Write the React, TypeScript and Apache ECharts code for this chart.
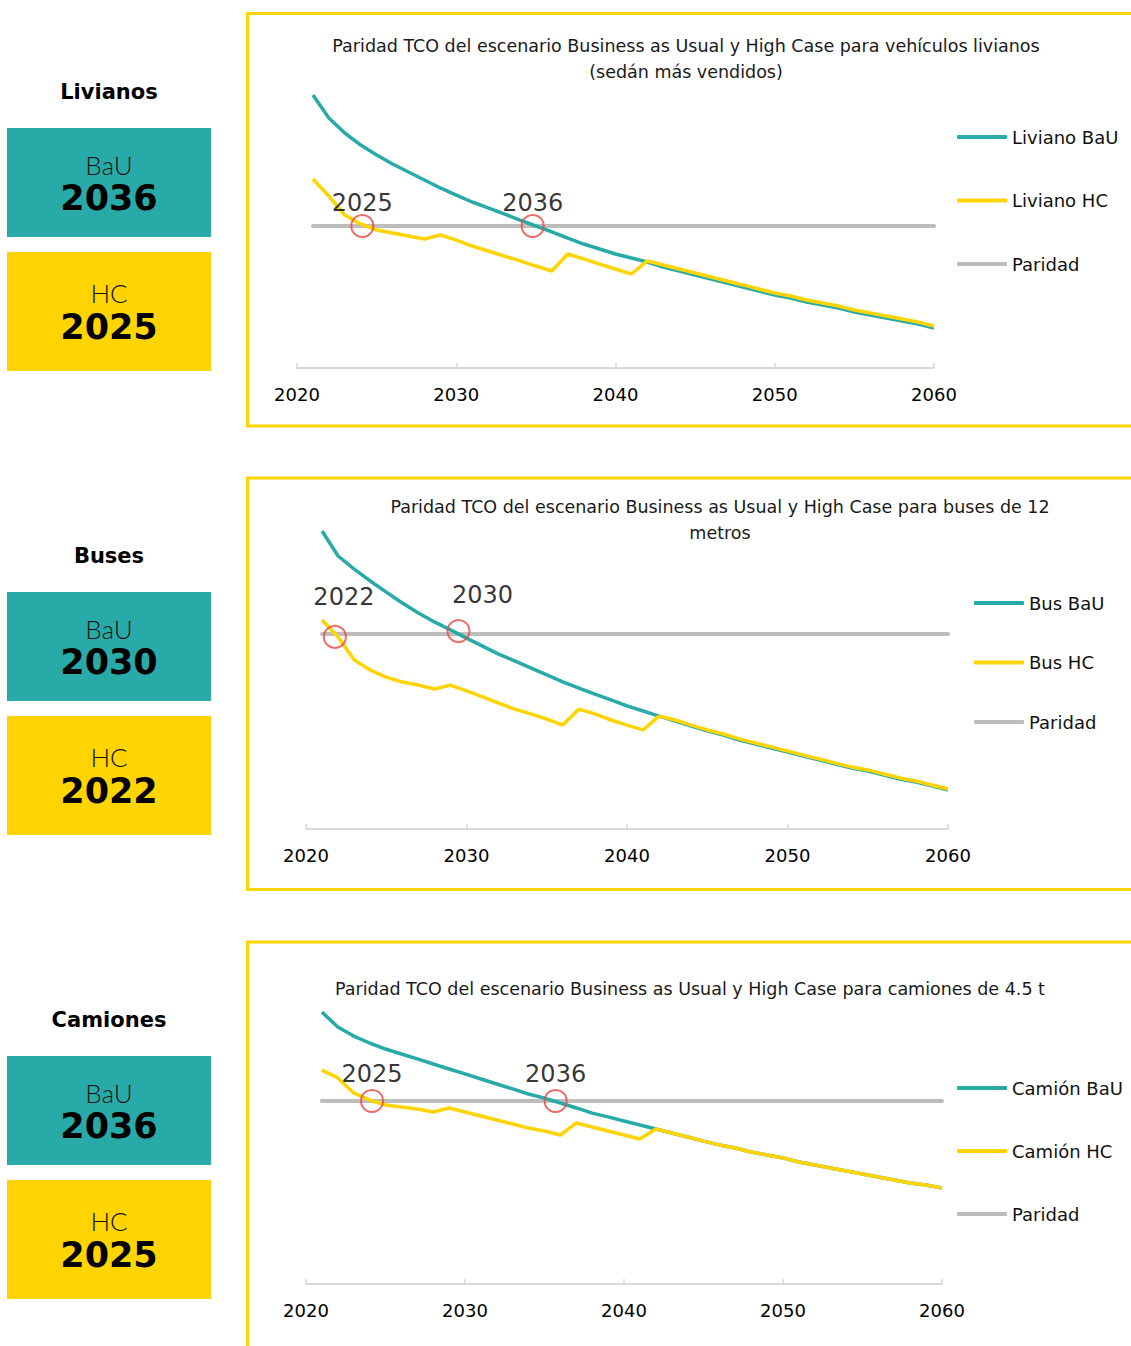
import React, { useEffect, useRef } from "react";
import * as echarts from "echarts";

// ---------- DATA ----------
const firstYear = 2021;
const parityLevel = 100;

const livianosBaU = [192.3, 176.1, 165.5, 157.0, 150.0, 143.7, 138.0, 132.4, 126.8, 121.8, 116.9, 112.7, 108.5, 104.2, 100.0, 95.8, 91.5, 87.3, 83.8, 80.3, 77.5, 74.6, 71.1, 68.3, 65.5, 62.7, 59.9, 57.0, 54.2, 51.4, 49.3, 46.5, 44.4, 42.3, 39.4, 37.3, 35.2, 33.1, 31.0, 28.2];
const livianosHC = [133.1, 121.1, 107.7, 101.4, 97.2, 95.1, 93.0, 90.8, 93.7, 90.1, 85.9, 82.4, 78.9, 75.4, 71.8, 68.3, 80.3, 76.8, 73.2, 69.7, 66.2, 75.4, 72.5, 69.7, 66.9, 64.1, 61.3, 58.5, 55.6, 52.8, 50.7, 47.9, 45.8, 43.7, 40.8, 38.7, 36.6, 34.5, 32.4, 29.6];

const busesBaU = [152.8, 140.0, 133.3, 127.2, 121.5, 115.9, 110.8, 106.2, 102.1, 97.9, 93.8, 89.7, 86.2, 82.6, 79.0, 75.4, 72.3, 69.2, 66.2, 63.1, 60.5, 57.9, 55.4, 52.8, 50.3, 48.2, 45.6, 43.6, 41.5, 39.5, 37.4, 35.4, 33.3, 31.3, 29.7, 27.7, 25.6, 24.1, 22.1, 20.0];
const busesHC = [107.2, 98.5, 86.7, 81.5, 77.9, 75.4, 73.8, 71.8, 73.8, 70.8, 67.7, 64.6, 61.5, 59.0, 56.4, 53.3, 61.5, 59.0, 55.9, 53.3, 50.8, 57.9, 55.9, 53.3, 50.8, 48.7, 46.2, 44.1, 42.1, 40.0, 37.9, 35.9, 33.8, 31.8, 30.3, 28.2, 26.2, 24.6, 22.6, 20.5];

const camionesBaU = [148.6, 140.4, 135.5, 131.7, 128.4, 125.7, 123.0, 120.2, 117.5, 114.8, 112.0, 109.3, 106.6, 103.8, 101.6, 98.9, 96.2, 93.4, 91.3, 89.1, 86.9, 84.7, 82.5, 80.3, 78.1, 76.0, 74.3, 72.1, 70.5, 68.9, 66.7, 65.0, 63.4, 61.7, 60.1, 58.5, 56.8, 55.2, 54.1, 52.5];
const camionesHC = [116.9, 112.6, 104.4, 100.5, 97.8, 96.7, 95.6, 94.0, 96.2, 94.0, 91.8, 89.6, 87.4, 85.2, 83.6, 81.4, 88.0, 85.8, 83.6, 81.4, 79.2, 84.7, 82.5, 80.3, 78.1, 76.0, 74.3, 72.1, 70.5, 68.9, 66.7, 65.0, 63.4, 61.7, 60.1, 58.5, 56.8, 55.2, 54.1, 52.5];

const livianosCrossYears = [2024.1, 2034.8];
const livianosCrossValues = [100, 100];
const livianosCrossLabels = ["2025", "2036"];
const busesCrossYears = [2021.8, 2029.5];
const busesCrossValues = [98.5, 101.5];
const busesCrossLabels = ["2022", "2030"];
const camionesCrossYears = [2024.15, 2035.7];
const camionesCrossValues = [100, 100];
const camionesCrossLabels = ["2025", "2036"];

const panelNames = ["Livianos", "Buses", "Camiones"];
const bauYears = ["2036", "2030", "2036"];
const hcYears = ["2025", "2022", "2025"];

const titles = [
  "Paridad TCO del escenario Business as Usual y High Case para vehículos livianos\n(sedán más vendidos)",
  "Paridad TCO del escenario Business as Usual y High Case para buses de 12\nmetros",
  "Paridad TCO del escenario Business as Usual y High Case para camiones de 4.5 t",
];
const legendNames = [
  ["Liviano BaU", "Liviano HC", "Paridad"],
  ["Bus BaU", "Bus HC", "Paridad"],
  ["Camión BaU", "Camión HC", "Paridad"],
];
const xTicks = { min: 2020, max: 2060, interval: 10 };

// ---------- STYLE ----------
const TEAL = "#28ABA8";
const YELLOW = "#FFD400";
const GRAY = "#BDBDBD";
const RED = "#E8473E";
const FRAME = "#FFD500";
const CHART_FONT = "DejaVu Sans";

const grids = [
  { left: 297, width: 637, top: 84, height: 284 },
  { left: 306, width: 642, top: 439, height: 390 },
  { left: 306, width: 636, top: 918, height: 366 },
];
const titlePos = [
  { left: 686, top: 33 },
  { left: 720, top: 494 },
  { left: 690, top: 976 },
];
const legendPos = [
  { left: 957, top: 127, gap: 43.5, clip: 0 },
  { left: 974, top: 593, gap: 39.5, clip: 0 },
  { left: 957, top: 1078, gap: 43, clip: 112 },
];
const labelOffsets = [
  [[0, -23], [0, -23]],
  [[9, -40], [24, -36]],
  [[0, -27], [0, -27]],
];

const toPairs = (vals: number[]) => vals.map((v, i) => [firstYear + i, v]);

export default function App() {
  const ref = useRef<HTMLDivElement>(null);

  useEffect(() => {
    if (!ref.current) return;
    const chart = echarts.init(ref.current, undefined, { renderer: "svg" });

    const panels = [
      { bau: livianosBaU, hc: livianosHC, cy: livianosCrossYears, cv: livianosCrossValues, cl: livianosCrossLabels },
      { bau: busesBaU, hc: busesHC, cy: busesCrossYears, cv: busesCrossValues, cl: busesCrossLabels },
      { bau: camionesBaU, hc: camionesHC, cy: camionesCrossYears, cv: camionesCrossValues, cl: camionesCrossLabels },
    ];

    const series: any[] = [];
    panels.forEach((p, k) => {
      const names = legendNames[k];
      series.push({
        name: names[2], type: "line", xAxisIndex: k, yAxisIndex: k,
        data: p.bau.map((_, i) => [firstYear + i, parityLevel]),
        symbol: "none", lineStyle: { color: GRAY, width: 4, cap: "round" }, itemStyle: { color: GRAY }, z: 2,
      });
      series.push({
        name: names[0], type: "line", xAxisIndex: k, yAxisIndex: k,
        data: toPairs(p.bau), symbol: "none",
        lineStyle: { color: TEAL, width: 3.5 }, itemStyle: { color: TEAL }, z: 3,
      });
      series.push({
        name: names[1], type: "line", xAxisIndex: k, yAxisIndex: k,
        data: toPairs(p.hc), symbol: "none",
        lineStyle: { color: YELLOW, width: 3.5 }, itemStyle: { color: YELLOW }, z: 4,
      });
      series.push({
        name: "cruce" + k, type: "scatter", xAxisIndex: k, yAxisIndex: k,
        symbol: "circle", symbolSize: 22, z: 5, silent: true,
        itemStyle: { color: "rgba(0,0,0,0)", borderColor: RED, borderWidth: 2 },
        data: p.cy.map((y, i) => ({
          value: [y, p.cv[i]],
          name: p.cl[i],
          label: { offset: labelOffsets[k][i] },
        })),
        label: {
          show: true, position: "inside", formatter: "{b}",
          fontFamily: CHART_FONT, fontSize: 24, color: "#000",
        },
      });
    });

    const graphics: any[] = [];
    for (let k = 0; k < 3; k++) {
      const dy = 464 * k;
      graphics.push({ type: "text", style: { text: panelNames[k], x: 109, y: 92 + dy, fontFamily: "DejaVu Sans", fontWeight: "bold", fontSize: 21, fill: "#000", align: "center", verticalAlign: "middle" } });
      graphics.push({ type: "rect", shape: { x: 7, y: 128 + dy, width: 204, height: 109 }, style: { fill: TEAL } });
      graphics.push({ type: "text", style: { text: "BaU", x: 109, y: 165 + dy, fontFamily: "Lato", fontWeight: 300, fontSize: 26, fill: "#111", align: "center", verticalAlign: "middle" } });
      graphics.push({ type: "text", style: { text: bauYears[k], x: 109, y: 198 + dy, fontFamily: "DejaVu Sans", fontWeight: "bold", fontSize: 35, fill: "#000", align: "center", verticalAlign: "middle" } });
      graphics.push({ type: "rect", shape: { x: 7, y: 252 + dy, width: 204, height: 119 }, style: { fill: YELLOW } });
      graphics.push({ type: "text", style: { text: "HC", x: 109, y: 293 + dy, fontFamily: "Lato", fontWeight: 300, fontSize: 26, fill: "#111", align: "center", verticalAlign: "middle" } });
      graphics.push({ type: "text", style: { text: hcYears[k], x: 109, y: 327 + dy, fontFamily: "DejaVu Sans", fontWeight: "bold", fontSize: 35, fill: "#000", align: "center", verticalAlign: "middle" } });
    }
    // frames
    graphics.push({ type: "rect", shape: { x: 247.5, y: 13.5, width: 1000, height: 412.5 }, style: { fill: "none", stroke: FRAME, lineWidth: 3 } });
    graphics.push({ type: "rect", shape: { x: 247.5, y: 478, width: 1000, height: 411.5 }, style: { fill: "none", stroke: FRAME, lineWidth: 3 } });
    graphics.push({ type: "rect", shape: { x: 247.5, y: 942, width: 1000, height: 1000 }, style: { fill: "none", stroke: FRAME, lineWidth: 3 } });

    const option: any = {
      animation: false,
      backgroundColor: "#fff",
      title: titles.map((t, k) => ({
        text: t, left: titlePos[k].left, top: titlePos[k].top, textAlign: "center", padding: 0,
        textStyle: { fontFamily: "DejaVu Sans", fontWeight: "normal", fontSize: 17.5, lineHeight: 26, color: "#1a1a1a" },
      })),
      legend: legendNames.map((names, k) => {
        const ts: any = { fontFamily: CHART_FONT, fontSize: 18, lineHeight: 20, color: "#111" };
        if (legendPos[k].clip) {
          ts.width = legendPos[k].clip;
          ts.overflow = "truncate";
          ts.ellipsis = "";
        }
        return {
          data: names, orient: "vertical", left: legendPos[k].left, top: legendPos[k].top,
          itemGap: legendPos[k].gap, itemWidth: 50, itemHeight: 4, icon: "roundRect", padding: 0,
          selectedMode: false, textStyle: ts,
        };
      }),
      grid: grids.map((g) => ({ ...g, containLabel: false })),
      xAxis: grids.map((_, k) => ({
        type: "value", gridIndex: k, min: xTicks.min, max: xTicks.max, interval: xTicks.interval,
        axisLine: { show: true, lineStyle: { color: "#D9D9D9", width: 2 } },
        axisTick: { show: true, inside: true, length: 5, lineStyle: { color: "#D9D9D9", width: 1.5 } },
        axisLabel: { color: "#000", fontFamily: CHART_FONT, fontSize: 18, margin: 17, formatter: (v: number) => String(v) },
        splitLine: { show: false },
      })),
      yAxis: grids.map((_, k) => ({
        type: "value", gridIndex: k, min: 0, max: 200, show: false, splitLine: { show: false },
      })),
      series,
      graphic: graphics,
    };
    chart.setOption(option);
    return () => chart.dispose();
  }, []);

  return <div ref={ref} style={{ position: "absolute", left: 0, top: 0, width: 1131, height: 1346 }} />;
}
